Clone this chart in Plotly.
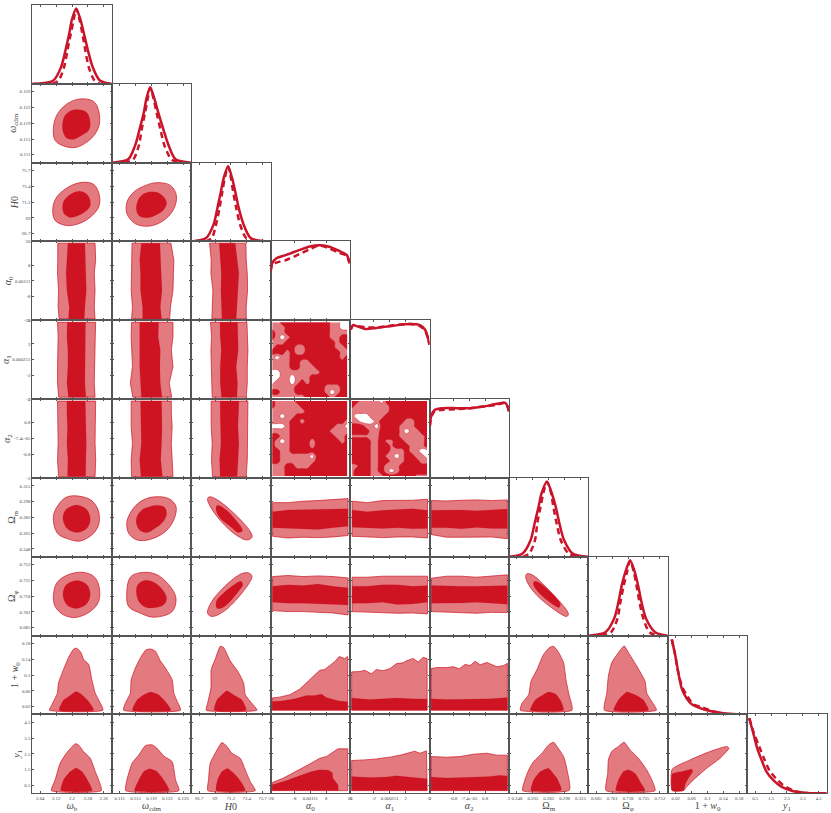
import plotly.graph_objects as go

# ---------- parameters ----------
PARAMS = ["b", "c", "H", "a0", "a1", "a2", "m", "p", "w", "y"]
LABELS = ["<i>ω</i><sub>b</sub>", "<i>ω</i><sub>cdm</sub>", "<i>H</i>0", "<i>α</i><sub>0</sub>", "<i>α</i><sub>1</sub>",
          "<i>α</i><sub>2</sub>", "Ω<sub>m</sub>", "Ω<sub>φ</sub>", "1 + <i>w</i><sub>0</sub>", "<i>y</i><sub>1</sub>"]
RANGES = [[2.0, 2.4], [0.1091, 0.1279], [65.6, 76.8], [-20, 20], [-5, 5], [-2, 2],
          [0.2396, 0.3234], [0.6766, 0.7604], [0, 0.2], [0, 5]]
TICK_VALS = [[2.04, 2.12, 2.2, 2.28, 2.36], [0.11098, 0.11474, 0.1185, 0.12226, 0.12602],
             [66.72, 68.96, 71.2, 73.44, 75.68], [-20, -8, 0.00111, 8, 20], [-5, -2, 0.000251, 2, 5],
             [-2, -0.8, -7.4e-05, 0.8, 2], [0.24798, 0.26474, 0.2815, 0.29826, 0.31502],
             [0.68498, 0.70174, 0.7185, 0.73526, 0.75202], [0.02, 0.06, 0.1, 0.14, 0.18], [0.5, 1.5, 2.5, 3.5, 4.5]]
TICK_TEXT = [["2.04", "2.12", "2.2", "2.28", "2.36"], ["0.111", "0.115", "0.119", "0.122", "0.126"],
             ["66.7", "69", "71.2", "73.4", "75.7"], ["-20", "-8", "0.00111", "8", "20"],
             ["-5", "-2", "0.000251", "2", "5"], ["-2", "-0.8", "-7.4e-05", "0.8", "2"],
             ["0.248", "0.265", "0.282", "0.298", "0.315"], ["0.685", "0.701", "0.718", "0.735", "0.752"],
             ["0.02", "0.06", "0.1", "0.14", "0.18"], ["0.5", "1.5", "2.5", "3.5", "4.5"]]

# ---------- 1D posteriors ----------
LEVELS_G = [0, 0.045, 0.224, 0.447, 0.67, 0.85, 1.0, 0.85, 0.67, 0.447, 0.224, 0.045, 0]
b_sol_x = [2.0, 2.106, 2.145, 2.167, 2.186, 2.199, 2.221, 2.243, 2.260, 2.280, 2.304, 2.340, 2.4]
b_dash_x = [2.10, 2.132, 2.160, 2.177, 2.194, 2.208, 2.221, 2.238, 2.252, 2.267, 2.284, 2.313, 2.34]
c_sol_x = [0.1091, 0.1130, 0.1146, 0.1157, 0.1167, 0.1173, 0.1182, 0.1192, 0.1201, 0.1213, 0.1226, 0.1242, 0.1279]
c_dash_x = [0.1120, 0.1142, 0.1155, 0.1162, 0.1170, 0.1176, 0.1182, 0.1190, 0.1197, 0.1206, 0.1216, 0.1232, 0.1250]
H_sol_x = [65.6, 67.7, 68.75, 69.3, 69.8, 70.2, 70.8, 71.35, 71.8, 72.3, 73.0, 74.0, 76.8]
H_dash_x = [67.6, 68.5, 69.1, 69.6, 70.0, 70.35, 70.8, 71.2, 71.5, 71.95, 72.5, 73.35, 74.5]
m_sol_x = [0.2396, 0.2540, 0.2625, 0.2667, 0.2709, 0.2741, 0.2797, 0.2847, 0.2889, 0.2928, 0.2977, 0.3068, 0.3234]
m_dash_x = [0.2540, 0.2611, 0.2671, 0.2695, 0.2730, 0.2759, 0.2797, 0.2840, 0.2864, 0.2899, 0.2942, 0.3023, 0.3110]
p_sol_x = [0.6766, 0.6946, 0.7037, 0.7083, 0.7118, 0.7157, 0.7206, 0.7255, 0.7290, 0.7326, 0.7375, 0.7470, 0.7604]
p_dash_x = [0.6900, 0.7005, 0.7072, 0.7104, 0.7139, 0.7174, 0.7206, 0.7245, 0.7273, 0.7305, 0.7347, 0.7410, 0.7500]

a0_sol_x = [-20, -19.2, -17.1, -12.1, -5.3, -0.25, 4.5, 9, 14.1, 18.3, 19.7]
a0_sol_y = [0.648, 0.76, 0.827, 0.871, 0.938, 0.983, 1.0, 0.983, 0.93, 0.871, 0.76]
a0_dash_x = [-20, -19.2, -17.1, -12.1, -5.3, -0.25, 4.5, 9, 14.1, 18.3, 19.7]
a0_dash_y = [0.648, 0.737, 0.769, 0.804, 0.885, 0.947, 0.996, 0.965, 0.902, 0.858, 0.76]
a1_sol_x = [-4.9, -4.6, -4.1, -3.1, -1.7, 0.45, 2.55, 3.8, 4.45, 4.75, 5]
a1_sol_y = [0.925, 0.985, 0.97, 0.934, 0.948, 0.979, 1.0, 0.985, 0.925, 0.836, 0.725]
a1_dash_x = [-4.9, -4.6, -4.1, -3.1, -1.7, 0.45, 2.55, 3.8, 4.45, 4.75, 5]
a1_dash_y = [0.934, 0.985, 0.975, 0.957, 0.957, 0.983, 1.0, 0.973, 0.912, 0.827, 0.725]
a2_sol_x = [-1.98, -1.9, -1.73, -1.31, -0.63, 0.04, 0.72, 1.39, 1.81, 1.93, 2]
a2_sol_y = [0.707, 0.841, 0.908, 0.93, 0.93, 0.93, 0.952, 0.988, 1.0, 0.952, 0.885]
a2_dash_x = [-1.98, -1.9, -1.73, -1.31, -0.63, 0.04, 0.72, 1.39, 1.81, 1.93, 2]
a2_dash_y = [0.694, 0.819, 0.89, 0.908, 0.917, 0.93, 0.952, 0.974, 1.0, 0.952, 0.885]
w_sol_x = [0.010, 0.0184, 0.0268, 0.0351, 0.0477, 0.0603, 0.0812, 0.1063, 0.1397, 0.1732, 0.2]
w_sol_y = [1.0, 0.794, 0.547, 0.346, 0.211, 0.135, 0.085, 0.045, 0.018, 0.004, 0]
w_dash_x = [0.010, 0.0184, 0.0268, 0.0368, 0.0494, 0.0644, 0.0854, 0.1105, 0.1397]
w_dash_y = [1.0, 0.794, 0.547, 0.359, 0.242, 0.135, 0.099, 0.045, 0.013]
y_sol_x = [0.126, 0.378, 0.63, 0.903, 1.218, 1.639, 2.164, 2.9, 3.74, 5.0]
y_sol_y = [1.0, 0.80, 0.599, 0.442, 0.286, 0.174, 0.085, 0.027, 0.004, 0]
y_dash_x = [0.126, 0.42, 0.756, 1.05, 1.387, 1.807, 2.269, 3.0, 3.845]
y_dash_y = [1.0, 0.80, 0.621, 0.465, 0.308, 0.197, 0.107, 0.031, 0.004]

# ---------- 2D closed contours (x list, y list), outer then inner ----------
c_b_o = ([2.241, 2.309, 2.334, 2.338, 2.317, 2.275, 2.216, 2.157, 2.115, 2.106, 2.123, 2.174],
         [.1243, .1237, .1215, .1184, .1160, .1140, .1127, .1131, .1144, .1172, .1204, .1231])
c_b_i = ([2.224, 2.272, 2.292, 2.284, 2.246, 2.211, 2.174, 2.155, 2.152, 2.165, 2.194],
         [.1218, .1212, .1188, .1168, .1155, .1147, .1149, .1164, .1184, .1204, .1215])
H_b_o = ([2.25, 2.309, 2.338, 2.334, 2.292, 2.233, 2.174, 2.115, 2.103, 2.123, 2.182],
         [74.0, 73.72, 72.15, 70.48, 69.06, 68.12, 67.87, 68.59, 70.25, 71.92, 73.34])
H_b_i = ([2.228, 2.267, 2.289, 2.292, 2.270, 2.233, 2.191, 2.160, 2.152, 2.160, 2.191],
         [72.72, 72.48, 71.67, 70.73, 69.92, 69.30, 69.02, 69.54, 70.49, 71.44, 72.29])
H_c_o = ([.1198, .1230, .1244, .1238, .1214, .1179, .1147, .1127, .1127, .1143, .1171],
         [73.96, 73.57, 72.15, 70.25, 68.59, 67.78, 68.12, 69.54, 71.2, 72.62, 73.57])
H_c_i = ([.1179, .1198, .1214, .1221, .1214, .1194, .1171, .1155, .1149, .1153, .1163],
         [72.62, 72.58, 71.91, 71.11, 70.11, 69.30, 68.97, 69.30, 70.25, 71.44, 72.24])
m_b_o = ([2.208, 2.292, 2.331, 2.336, 2.309, 2.241, 2.182, 2.126, 2.106, 2.132, 2.166],
         [.3045, .3004, .2897, .2754, .2647, .2564, .2585, .2647, .2826, .2951, .3023])
m_b_i = ([2.224, 2.275, 2.292, 2.275, 2.224, 2.174, 2.154, 2.169],
         [.2947, .2897, .2790, .2700, .2654, .2700, .2807, .2897])
m_c_o = ([.1194, .1226, .1243, .1238, .1218, .1183, .1151, .1131, .1127, .1143, .1167],
         [.3034, .3015, .2933, .2790, .2665, .2582, .2575, .2647, .2772, .2916, .3004])
m_c_i = ([.1179, .1198, .1216, .1221, .1213, .1194, .1175, .1159, .1149, .1151, .1163],
         [.2926, .2944, .2922, .2851, .2772, .2700, .2654, .2672, .2754, .2826, .2897])
m_H_o = ([68.19, 69.23, 71.58, 73.93, 74.17, 73.46, 71.58, 69.23, 68.04, 67.91],
         [.3034, .3004, .2862, .2665, .2604, .2575, .2647, .2826, .2969, .3015])
m_H_i = ([69.23, 70.17, 72.05, 72.85, 72.29, 71.11, 69.7, 69.13],
         [.2941, .2916, .2772, .2675, .2654, .2719, .2807, .2886])
p_b_o = ([2.25, 2.309, 2.336, 2.334, 2.292, 2.216, 2.157, 2.115, 2.106, 2.123, 2.174],
         [.7440, .7397, .7291, .7130, .7022, .6959, .6987, .7076, .7183, .7326, .7408])
p_b_i = ([2.224, 2.275, 2.292, 2.272, 2.216, 2.174, 2.154, 2.169],
         [.7351, .7308, .7201, .7101, .7055, .7094, .7201, .7301])
p_c_o = ([.1155, .1194, .1226, .1243, .1234, .1190, .1159, .1131, .1127, .1135],
         [.7433, .7422, .7308, .7166, .7022, .6962, .7005, .7076, .7255, .7387])
p_c_i = ([.1171, .1194, .1214, .1221, .1214, .1191, .1171, .1155, .1149, .1153],
         [.7355, .7326, .7237, .7159, .7094, .7062, .7069, .7130, .7237, .7309])
p_H_o = ([73.7, 74.17, 72.76, 70.17, 68.52, 67.91, 68.52, 71.11, 72.76],
         [.7433, .7397, .7219, .7022, .6970, .7005, .7130, .7343, .7426])
p_H_i = ([72.61, 72.89, 72.28, 71.11, 69.93, 69.22, 69.13, 70.16, 71.34],
         [.7344, .7309, .7237, .7130, .7059, .7059, .7130, .7219, .7291])
p_m_o = ([.2583, .2636, .2829, .3023, .3005, .2829, .2653, .2575],
         [.7422, .7415, .7237, .6998, .6970, .7076, .7237, .7376])
p_m_i = ([.2671, .2759, .2935, .2927, .2794, .2671, .2653],
         [.7343, .7297, .7112, .7065, .7147, .7272, .7326])

# w row (flat-bottomed)
w_b_o = ([2.086, 2.098, 2.126, 2.132, 2.157, 2.182, 2.208, 2.224, 2.245, 2.258, 2.284, 2.300, 2.317, 2.338, 2.356],
         [.011, .024, .054, .080, .114, .144, .166, .168, .157, .140, .127, .088, .054, .033, .011])
w_b_i = ([2.135, 2.157, 2.182, 2.221, 2.250, 2.284, 2.309], [.011, .037, .045, .058, .050, .033, .011])
w_c_o = ([.1119, .1123, .1135, .1137, .1147, .1159, .1172, .1183, .1194, .1206, .1218, .1234, .1238, .1246, .1254],
         [.011, .028, .054, .088, .118, .144, .164, .166, .161, .136, .118, .088, .054, .033, .011])
w_c_i = ([.1140, .1151, .1167, .1183, .1202, .1218, .1231], [.011, .037, .050, .057, .050, .033, .011])
w_H_o = ([67.72, 67.91, 68.38, 68.42, 68.99, 69.7, 70.17, 71.11, 72.29, 72.99, 73.23, 74.17, 74.87],
         [.011, .028, .067, .114, .140, .173, .170, .136, .106, .080, .050, .028, .011])
w_H_i = ([68.85, 69.23, 69.93, 70.64, 71.58, 72.76, 73.36], [.011, .037, .050, .060, .050, .037, .011])
w_a0_o = ([-19.2, -19.2, -15.5, -10.4, -5.4, -.3, 4.7, 7.2, 10.6, 12.3, 14.5, 17.3, 18.8, 18.8],
          [.011, .042, .044, .050, .064, .088, .112, .114, .129, .134, .147, .142, .147, .011])
w_a0_i = ([-19.2, -19.2, -13.8, -7.9, -2, 2.2, 5.6, 8.1, 14, 18.8, 18.8],
          [.011, .033, .035, .040, .048, .048, .052, .043, .035, .032, .011])
w_a1_o = ([-4.8, -4.8, -3.8, -3.15, -2.3, -1.7, -.85, 0, .84, 1.68, 2.1, 2.94, 3.57, 4.2, 4.7, 4.7],
          [.011, .108, .109, .112, .103, .114, .111, .116, .129, .131, .136, .142, .133, .145, .142, .011])
w_a1_i = ([-4.8, -4.8, -2.5, -.85, .84, 2.94, 4.7, 4.7], [.011, .042, .038, .040, .042, .040, .039, .011])
w_a2_o = ([-1.92, -1.92, -1.65, -1.14, -.8, -.5, -.21, .04, .3, .55, .89, 1.39, 1.73, 1.92, 1.92],
          [.011, .116, .119, .119, .121, .116, .127, .124, .135, .126, .132, .121, .124, .130, .011])
w_a2_i = ([-1.92, -1.92, -1.14, .04, 1.05, 1.92, 1.92], [.011, .040, .038, .039, .040, .043, .011])
w_m_o = ([.2516, .2533, .2604, .2628, .2692, .2762, .2826, .2868, .2921, .2973, .2998, .3026, .3061],
         [.011, .028, .050, .084, .114, .153, .170, .173, .157, .131, .088, .054, .011])
w_m_i = ([.2621, .2674, .2815, .2889, .2942, .2973], [.011, .037, .057, .052, .035, .011])
w_p_o = ([.6935, .6960, .6977, .7012, .7083, .7143, .7199, .7276, .7364, .7382, .7435, .7484],
         [.011, .054, .097, .131, .157, .174, .153, .123, .084, .054, .033, .011])
w_p_i = ([.7033, .7083, .7171, .7259, .7347, .7400], [.011, .037, .057, .050, .037, .011])

# y1 row (flat-bottomed)
y_b_o = ([2.096, 2.115, 2.14, 2.174, 2.216, 2.233, 2.258, 2.292, 2.317, 2.334, 2.348],
         [.17, .85, 1.9, 2.58, 3.14, 3.07, 2.65, 2.22, 1.38, .85, .17])
y_b_i = ([2.144, 2.157, 2.191, 2.221, 2.25, 2.278, 2.302], [.17, .85, 1.38, 1.61, 1.38, .85, .17])
y_c_o = ([.1124, .1127, .1139, .1155, .1171, .1187, .1198, .1214, .1234, .1242, .1250],
         [.17, .85, 1.9, 2.43, 3.03, 3.07, 2.86, 2.37, 2.01, .85, .17])
y_c_i = ([.1145, .1155, .1167, .1181, .1198, .1214, .1227], [.17, .85, 1.38, 1.55, 1.38, .85, .17])
y_H_o = ([67.95, 68.04, 68.28, 68.99, 69.93, 70.64, 71.35, 72.52, 73.23, 73.93, 74.64],
         [.17, .85, 1.9, 2.54, 3.22, 2.97, 2.54, 2.22, 1.48, .74, .17])
y_H_i = ([69.13, 69.32, 69.93, 70.73, 71.82, 72.76, 73.23], [.17, .85, 1.38, 1.57, 1.17, .64, .17])
y_a0_o = ([-19.2, -19.2, -13.8, -7.1, -.3, 4.7, 8.1, 13.9, 18.8, 18.8],
          [.17, .68, .95, 1.38, 1.86, 2.22, 2.33, 2.82, 2.82, .17])
y_a0_i = ([-19.2, -19.2, -12.1, -5.4, .5, 4.7, 8.9, 11.1, 11.4, 14, 14.1],
          [.17, .55, .81, 1.1, 1.38, 1.5, 1.48, 1.31, .95, .53, .17])
y_a1_o = ([-4.8, -4.8, -3.15, -1.7, .21, 1.47, 3.15, 3.78, 4.62, 4.7],
          [.17, 2.08, 2.12, 2.18, 2.31, 2.44, 2.67, 2.54, 2.69, .17])
y_a1_i = ([-4.8, -4.8, -2.5, -.42, .84, 2.1, 3.78, 4.7, 4.7], [.17, 1.06, 1.0, 1.04, 1.12, 1.06, 1.02, .93, .17])
y_a2_o = ([-1.92, -1.92, -1.14, -.46, .21, .89, 1.39, 1.92, 1.92], [.17, 2.33, 2.29, 2.33, 2.48, 2.54, 2.42, 2.42, .17])
y_a2_i = ([-1.92, -1.92, -1.14, .04, 1.05, 1.56, 1.92, 1.92], [.17, 1.04, .97, 1.02, 1.06, 1.14, 1.10, .17])
y_m_o = ([.2540, .2558, .2604, .2657, .2745, .2815, .2868, .2903, .2973, .3009, .3034],
         [.17, .74, 1.48, 2.01, 2.54, 3.07, 3.24, 2.97, 2.33, 1.48, .2])
y_m_i = ([.2628, .2657, .2727, .2815, .2833, .2903, .2949], [.17, .85, 1.38, 1.59, 1.48, .95, .21])
y_p_o = ([.6953, .6970, .6977, .7012, .7083, .7143, .7206, .7294, .7382, .7435, .7470],
         [.17, 1.27, 2.12, 2.65, 2.97, 3.24, 2.75, 2.22, 1.48, .85, .17])
y_p_i = ([.7055, .7083, .7136, .7188, .7259, .7312, .7364], [.17, .85, 1.38, 1.5, 1.27, .74, .17])
y_w_o = ([.0109, .0561, .1063, .1481, .1540, .1314, .0979, .0644, .0477, .0393, .0109],
         [1.53, 2.12, 2.65, 2.97, 2.86, 2.22, 1.59, .85, .42, .17, .17])
y_w_i = ([.0109, .0351, .0602, .0628, .0519, .0435, .0393, .0109], [1.23, 1.38, 1.53, 1.38, .95, .53, .17, .17])

# ---------- vertical strips: rows alpha_k against b, c, H ----------
a0_lev = [-19.3, -13.2, -4.7, 3.8, 10.6, 19.15]
a1_lev = [-4.75, -2.97, -0.87, 1.24, 2.93, 4.75]
a2_lev = [-1.93, -1.08, -0.24, 0.61, 1.29, 1.9]
# outer left, outer right, inner left, inner right
a0_b_e = ([2.135, 2.130, 2.132, 2.127, 2.128, 2.128], [2.316, 2.312, 2.316, 2.312, 2.319, 2.316],
          [2.182, 2.186, 2.174, 2.170, 2.174, 2.179], [2.262, 2.265, 2.272, 2.272, 2.268, 2.265])
a0_c_e = ([.1138, .1140, .1137, .1138, .1139, .1139], [.1228, .1230, .1236, .1237, .1238, .1231],
          [.1164, .1164, .1159, .1159, .1157, .1161], [.1209, .1206, .1210, .1208, .1206, .1205])
a0_H_e = ([68.52, 68.56, 68.66, 68.38, 68.42, 68.19], [73.36, 73.36, 73.55, 73.51, 73.36, 73.32],
          [69.93, 69.88, 69.79, 69.84, 69.69, 69.55], [71.95, 72.05, 72.19, 72.33, 72.14, 71.81])
a1_b_e = ([2.133, 2.127, 2.127, 2.130, 2.130, 2.127], [2.316, 2.312, 2.316, 2.316, 2.317, 2.319],
          [2.182, 2.174, 2.179, 2.179, 2.174, 2.176], [2.270, 2.265, 2.268, 2.267, 2.267, 2.268])
a1_c_e = ([.1141, .1135, .1140, .1138, .1137, .1138], [.1233, .1227, .1236, .1232, .1236, .1236],
          [.1161, .1159, .1157, .1157, .1157, .1157], [.1210, .1206, .1205, .1206, .1201, .1202])
a1_H_e = ([68.56, 68.52, 68.38, 68.38, 68.47, 68.33], [73.36, 73.51, 73.51, 73.6, 73.51, 73.46],
          [69.88, 69.69, 69.69, 69.84, 69.69, 69.65], [72.05, 72.14, 71.95, 72.24, 72.19, 72.14])
a2_b_e = ([2.132, 2.127, 2.130, 2.130, 2.127, 2.127], [2.316, 2.319, 2.316, 2.317, 2.317, 2.319],
          [2.177, 2.179, 2.174, 2.177, 2.174, 2.174], [2.268, 2.270, 2.272, 2.270, 2.267, 2.267])
a2_c_e = ([.1138, .1137, .1140, .1137, .1137, .1137], [.1236, .1234, .1232, .1234, .1232, .1232],
          [.1160, .1157, .1161, .1160, .1160, .1159], [.1211, .1207, .1209, .1210, .1210, .1209])
a2_H_e = ([68.61, 68.47, 68.56, 68.42, 68.42, 68.42], [73.36, 73.51, 73.55, 73.55, 73.6, 73.6],
          [69.69, 69.6, 69.79, 69.69, 69.69, 69.69], [72.09, 72.19, 72.33, 72.19, 72.28, 72.33])

# ---------- horizontal strips: rows Omega against alpha_k ----------
a0_pos = [-19, -11.3, -3.7, 3.9, 11.4, 19]
a1_pos = [-4.75, -2.8, -0.9, 0.97, 2.86, 4.75]
a2_pos = [-1.9, -1.14, -0.39, 0.37, 1.13, 1.92]
# outer bottom, outer top, inner bottom, inner top
m_a0_e = ([.2614, .2596, .2604, .2600, .2607, .2622], [.2972, .2972, .2987, .2994, .3001, .3015],
          [.2704, .2697, .2693, .2686, .2704, .2722], [.2876, .2894, .2890, .2901, .2904, .2908])
m_a1_e = ([.2614, .2607, .2600, .2607, .2607, .2596], [.2987, .2972, .2994, .2997, .2997, .3008],
          [.2711, .2704, .2697, .2704, .2693, .2697], [.2894, .2876, .2890, .2901, .2908, .2890])
m_a2_e = ([.2632, .2604, .2604, .2607, .2607, .2589], [.2994, .2990, .2997, .3001, .2994, .3001],
          [.2704, .2704, .2693, .2708, .2697, .2697], [.2890, .2894, .2894, .2886, .2894, .2904])
p_a0_e = ([.7032, .7022, .7022, .7014, .7007, .6986], [.7394, .7405, .7394, .7401, .7394, .7380],
          [.7121, .7110, .7110, .7103, .7103, .7093], [.7291, .7306, .7298, .7316, .7291, .7274])
p_a1_e = ([.7022, .7014, .7007, .7004, .7007, .6997], [.7387, .7387, .7398, .7405, .7398, .7398],
          [.7110, .7110, .7121, .7096, .7103, .7121], [.7291, .7291, .7306, .7306, .7291, .7298])
p_a2_e = ([.7022, .7014, .7007, .7004, .7014, .7011], [.7377, .7398, .7398, .7387, .7398, .7412],
          [.7110, .7110, .7114, .7121, .7110, .7100], [.7298, .7298, .7291, .7291, .7291, .7298])

# ---------- alpha-alpha maps: 0 outside, 1 between contours, 2 inside ----------
A0_GRID = [-19.2, -16.7, -14.1, -11.6, -9.1, -6.6, -4.1, -1.6, 1.0, 3.5, 6.0, 8.5, 11.0, 13.6, 16.1, 18.6]
A1_GRID = [-4.8, -4.2, -3.5, -2.9, -2.3, -1.6, -1.0, -.4, .2, .9, 1.5, 2.1, 2.8, 3.4, 4.0, 4.7]
A1_ROWS = [4.75, 4.12, 3.48, 2.85, 2.22, 1.59, .96, .32, -.31, -.94, -1.57, -2.2, -2.84, -3.47, -4.1, -4.73]
A2_ROWS = [1.9, 1.65, 1.39, 1.14, .88, .63, .38, .12, -.13, -.38, -.63, -.89, -1.14, -1.4, -1.65, -1.9]
Z_a1_a0 = [
    [1, 1, 2, 2, 2, 2, 2, 2, 2, 2, 2, 2, 1, 1, 0, 0],
    [1, 1, 1, 2, 2, 2, 2, 2, 2, 2, 2, 2, 1, 1, 0, 0],
    [2, 1, 1, 2, 2, 2, 2, 2, 2, 2, 2, 2, 1, 1, 1, 1],
    [2, 1, 0, 1, 2, 2, 2, 2, 2, 2, 2, 2, 1, 1, 2, 2],
    [1, 1, 1, 2, 2, 2, 2, 2, 2, 2, 2, 2, 2, 1, 2, 2],
    [1, 2, 2, 2, 2, 1, 1, 2, 2, 2, 2, 2, 2, 1, 1, 2],
    [2, 2, 2, 1, 2, 1, 1, 2, 2, 2, 2, 2, 2, 2, 1, 1],
    [1, 0, 1, 1, 2, 2, 2, 2, 2, 2, 2, 2, 2, 2, 1, 2],
    [1, 1, 1, 1, 2, 2, 1, 1, 2, 2, 2, 2, 2, 2, 2, 2],
    [1, 1, 1, 1, 2, 2, 1, 1, 1, 2, 2, 2, 2, 2, 2, 2],
    [0, 0, 1, 1, 1, 1, 1, 1, 1, 1, 2, 2, 2, 2, 2, 2],
    [0, 0, 1, 1, 0, 1, 1, 1, 2, 2, 2, 2, 2, 2, 2, 2],
    [0, 1, 1, 1, 0, 1, 2, 1, 2, 2, 2, 2, 2, 2, 2, 2],
    [1, 1, 1, 1, 1, 2, 2, 2, 2, 2, 2, 1, 1, 1, 2, 2],
    [2, 2, 1, 1, 1, 2, 2, 2, 2, 2, 2, 1, 0, 1, 2, 2],
    [1, 1, 1, 1, 1, 1, 1, 2, 2, 2, 2, 2, 1, 2, 2, 2]]
Z_a2_a0 = [
    [2, 1, 1, 1, 1, 2, 2, 2, 2, 2, 2, 2, 2, 2, 2, 2],
    [2, 1, 1, 1, 1, 1, 2, 2, 2, 2, 2, 2, 2, 2, 2, 2],
    [1, 1, 1, 1, 1, 1, 1, 2, 2, 2, 2, 2, 2, 2, 2, 2],
    [1, 1, 0, 1, 1, 2, 2, 2, 2, 2, 2, 2, 2, 2, 2, 2],
    [1, 1, 1, 1, 2, 2, 1, 2, 2, 2, 2, 2, 2, 2, 2, 1],
    [0, 0, 0, 1, 2, 2, 2, 2, 2, 2, 2, 2, 2, 1, 1, 0],
    [1, 1, 1, 1, 2, 2, 2, 2, 2, 2, 2, 2, 1, 1, 1, 1],
    [2, 2, 1, 1, 2, 2, 2, 2, 2, 2, 2, 2, 2, 1, 1, 2],
    [2, 1, 0, 1, 2, 2, 2, 2, 1, 2, 2, 2, 2, 2, 1, 2],
    [2, 1, 1, 1, 2, 2, 2, 2, 1, 2, 2, 2, 2, 2, 2, 2],
    [2, 2, 1, 1, 2, 2, 2, 2, 2, 2, 2, 2, 2, 2, 2, 2],
    [2, 2, 1, 1, 1, 1, 1, 1, 0, 2, 2, 2, 2, 2, 2, 2],
    [2, 2, 1, 1, 1, 1, 1, 1, 1, 2, 2, 2, 2, 2, 2, 2],
    [1, 1, 1, 2, 2, 1, 1, 1, 2, 2, 2, 2, 2, 2, 2, 2],
    [1, 1, 1, 2, 2, 2, 2, 2, 2, 2, 2, 2, 2, 2, 2, 2],
    [1, 1, 1, 2, 2, 2, 2, 2, 2, 2, 2, 2, 2, 2, 2, 2]]
Z_a2_a1 = [
    [2, 2, 1, 1, 1, 1, 0, 2, 2, 2, 2, 2, 2, 2, 2, 2],
    [2, 1, 1, 1, 1, 1, 1, 1, 2, 2, 2, 2, 2, 2, 2, 2],
    [1, 1, 1, 1, 1, 1, 1, 1, 2, 2, 2, 2, 2, 2, 2, 2],
    [1, 0, 0, 0, 1, 1, 1, 2, 2, 2, 2, 2, 2, 2, 2, 2],
    [1, 1, 0, 0, 0, 1, 2, 2, 2, 2, 2, 1, 1, 2, 2, 2],
    [2, 2, 2, 1, 1, 0, 2, 2, 2, 2, 1, 1, 1, 2, 2, 2],
    [2, 2, 2, 2, 1, 1, 2, 2, 2, 2, 1, 0, 1, 1, 2, 2],
    [1.3, 1.3, 1.3, 1.3, 1.2, 1.2, 2, 2, 2, 2, 1, 1, 1, 1, 1, 2],
    [2, 2, 2, 2, 1.35, 1.35, 2, 1.3, 1.3, 2, 2, 1, 1, 1, 1, 2],
    [2, 2, 2, 2, 1.35, 1.35, 2, 2, 1.3, 2, 2, 2, 1, 1, 1, 2],
    [2, 2, 2, 2, 1.35, 1.35, 2, 2, 1.2, 1, 1, 2, 1, 1, 0, 0],
    [2, 2, 2, 2, 1.35, 1.35, 2, 1.3, 1, 0, 1, 2, 2, 1, 1, 0],
    [2, 2, 2, 2, 1.35, 1.35, 2, 2, 1.2, 1, 1, 2, 2, 2, 1, 1],
    [1, 1.3, 2, 2, 1.35, 1.35, 2, 1, 1, 1, 2, 2, 2, 2, 2, 2],
    [1, 2, 2, 2, 1.35, 1.35, 2, 1, 0, 1, 2, 2, 2, 2, 2, 2],
    [1, 2, 2, 2, 1.35, 1.35, 1.3, 2, 2, 2, 2, 2, 2, 1.3, 1.3, 1.3]]

# ---------- tables built from the lists above ----------
CURVES = {
    0: (b_sol_x, LEVELS_G, b_dash_x, LEVELS_G), 1: (c_sol_x, LEVELS_G, c_dash_x, LEVELS_G),
    2: (H_sol_x, LEVELS_G, H_dash_x, LEVELS_G), 3: (a0_sol_x, a0_sol_y, a0_dash_x, a0_dash_y),
    4: (a1_sol_x, a1_sol_y, a1_dash_x, a1_dash_y), 5: (a2_sol_x, a2_sol_y, a2_dash_x, a2_dash_y),
    6: (m_sol_x, LEVELS_G, m_dash_x, LEVELS_G), 7: (p_sol_x, LEVELS_G, p_dash_x, LEVELS_G),
    8: (w_sol_x, w_sol_y, w_dash_x, w_dash_y), 9: (y_sol_x, y_sol_y, y_dash_x, y_dash_y)}
SMOOTH = {(1, 0): (c_b_o, c_b_i), (2, 0): (H_b_o, H_b_i), (2, 1): (H_c_o, H_c_i), (6, 0): (m_b_o, m_b_i),
          (6, 1): (m_c_o, m_c_i), (6, 2): (m_H_o, m_H_i), (7, 0): (p_b_o, p_b_i), (7, 1): (p_c_o, p_c_i),
          (7, 2): (p_H_o, p_H_i), (7, 6): (p_m_o, p_m_i)}
# flat-bottomed peaks, softened a little
SOFT = {(8, 0): (w_b_o, w_b_i), (8, 1): (w_c_o, w_c_i), (8, 2): (w_H_o, w_H_i), (8, 6): (w_m_o, w_m_i),
        (8, 7): (w_p_o, w_p_i), (9, 0): (y_b_o, y_b_i), (9, 1): (y_c_o, y_c_i), (9, 2): (y_H_o, y_H_i),
        (9, 6): (y_m_o, y_m_i), (9, 7): (y_p_o, y_p_i), (9, 8): (y_w_o, y_w_i)}
ANGULAR = {(8, 3): (w_a0_o, w_a0_i), (8, 4): (w_a1_o, w_a1_i), (8, 5): (w_a2_o, w_a2_i),
           (9, 3): (y_a0_o, y_a0_i), (9, 4): (y_a1_o, y_a1_i), (9, 5): (y_a2_o, y_a2_i)}
V_STRIPS = {(3, 0): (a0_lev, a0_b_e), (3, 1): (a0_lev, a0_c_e), (3, 2): (a0_lev, a0_H_e),
            (4, 0): (a1_lev, a1_b_e), (4, 1): (a1_lev, a1_c_e), (4, 2): (a1_lev, a1_H_e),
            (5, 0): (a2_lev, a2_b_e), (5, 1): (a2_lev, a2_c_e), (5, 2): (a2_lev, a2_H_e)}
H_STRIPS = {(6, 3): (a0_pos, m_a0_e), (6, 4): (a1_pos, m_a1_e), (6, 5): (a2_pos, m_a2_e),
            (7, 3): (a0_pos, p_a0_e), (7, 4): (a1_pos, p_a1_e), (7, 5): (a2_pos, p_a2_e)}
MAPS = {(4, 3): (A0_GRID, A1_ROWS, Z_a1_a0), (5, 3): (A0_GRID, A2_ROWS, Z_a2_a0), (5, 4): (A1_GRID, A2_ROWS, Z_a2_a1)}

# ---------- style ----------
DARK, LIGHT, CURVE = "#CE1423", "#E27A80", "#C9142A"
SPINE = "#555555"
FONT = "Liberation Serif"
W, H_PX = 831, 813
X0, STEP_X, Y0, STEP_Y = 32.3, 79.44, 5.0, 78.83

fig = go.Figure()
layout = {}
index = {}
n = 0
for r in range(10):
    for c in range(r + 1):
        n += 1
        index[(r, c)] = n
        sfx = "" if n == 1 else str(n)
        last, first = r == 9, c == 0
        xa = dict(domain=[(X0 + c * STEP_X) / W, (X0 + (c + 1) * STEP_X) / W], range=RANGES[c], anchor="y" + sfx,
                  tickmode="array", tickvals=TICK_VALS[c], ticktext=TICK_TEXT[c], showticklabels=last,
                  ticks="inside", ticklen=2, tickwidth=0.6, tickcolor=SPINE, showline=True, mirror="ticks",
                  linecolor=SPINE, linewidth=1, showgrid=False, zeroline=False,
                  tickfont=dict(family=FONT, size=4.8, color="#444444"), tickangle=0)
        if last:
            xa["title"] = dict(text=LABELS[c], font=dict(family=FONT, size=10, color="#444444"), standoff=1)
        if r == c:
            ya = dict(range=[0, 1.05], showticklabels=False, ticks="", tickmode="array", tickvals=[])
        else:
            ya = dict(range=RANGES[r], tickmode="array", tickvals=TICK_VALS[r], ticktext=TICK_TEXT[r],
                      showticklabels=first, ticks="inside", ticklen=2, tickwidth=0.6, tickcolor=SPINE,
                      tickfont=dict(family=FONT, size=4.8, color="#444444"), tickangle=0)
            if first:
                ya["title"] = dict(text=LABELS[r], font=dict(family=FONT, size=10, color="#444444"), standoff=1)
        ya.update(domain=[1 - (Y0 + (r + 1) * STEP_Y) / H_PX, 1 - (Y0 + r * STEP_Y) / H_PX], anchor="x" + sfx,
                  showline=True, mirror="ticks" if r != c else True, linecolor=SPINE, linewidth=1,
                  showgrid=False, zeroline=False)
        layout["xaxis" + sfx] = xa
        layout["yaxis" + sfx] = ya


def refs(key):
    i = index[key]
    s = "" if i == 1 else str(i)
    return dict(xaxis="x" + s, yaxis="y" + s)


def area(key, xs, ys, color, shape, edge, smooth=1.0):
    fig.add_trace(go.Scatter(x=list(xs) + [xs[0]], y=list(ys) + [ys[0]], mode="lines", fill="toself", fillcolor=color,
                             line=dict(color=DARK if edge else color, width=0.7 if edge else 0.1, shape=shape,
                                       smoothing=smooth if shape == "spline" else None),
                             hoverinfo="skip", showlegend=False, **refs(key)))


for key, (outer, inner) in SMOOTH.items():
    area(key, outer[0], outer[1], LIGHT, "spline", True)
    area(key, inner[0], inner[1], DARK, "spline", False)
for key, (outer, inner) in SOFT.items():
    area(key, outer[0], outer[1], LIGHT, "spline", True, 0.5)
    area(key, inner[0], inner[1], DARK, "spline", False, 0.5)
for key, (outer, inner) in ANGULAR.items():
    area(key, outer[0], outer[1], LIGHT, "linear", True)
    area(key, inner[0], inner[1], DARK, "linear", False)
for key, (lev, (ol, orr, il, ir)) in V_STRIPS.items():
    area(key, ol + orr[::-1], lev + lev[::-1], LIGHT, "linear", True)
    area(key, il + ir[::-1], lev + lev[::-1], DARK, "linear", False)
for key, (pos, (ob, ot, ib, it)) in H_STRIPS.items():
    area(key, pos + pos[::-1], ob + ot[::-1], LIGHT, "linear", True)
    area(key, pos + pos[::-1], ib + it[::-1], DARK, "linear", False)
for key, (gx, gy, z) in MAPS.items():
    fig.add_trace(go.Contour(x=gx, y=gy[::-1], z=z[::-1], zmin=0, zmax=2, showscale=False, hoverinfo="skip",
                             autocontour=False, contours=dict(start=0.5, end=1.5, size=1, coloring="fill"),
                             colorscale=[[0, "#FFFFFF"], [0.33, "#FFFFFF"], [0.33, LIGHT], [0.67, LIGHT],
                                         [0.67, DARK], [1, DARK]],
                             line=dict(color=DARK, width=0.4, smoothing=1.0), **refs(key)))
for i, (sx, sy, dx, dy) in CURVES.items():
    fig.add_trace(go.Scatter(x=sx, y=sy, mode="lines", line=dict(color=CURVE, width=2.5, shape="spline", smoothing=0.8),
                             hoverinfo="skip", showlegend=False, **refs((i, i))))
    fig.add_trace(go.Scatter(x=dx, y=dy, mode="lines",
                             line=dict(color=CURVE, width=2.5, dash="6px,4px", shape="spline", smoothing=0.8),
                             hoverinfo="skip", showlegend=False, **refs((i, i))))

fig.update_layout(width=W, height=H_PX, margin=dict(l=0, r=0, t=0, b=0, autoexpand=False), paper_bgcolor="white",
                  plot_bgcolor="white", showlegend=False, **layout)
fig.write_html("out.html", config={"displayModeBar": False}, post_script="document.body.style.margin='0';")
